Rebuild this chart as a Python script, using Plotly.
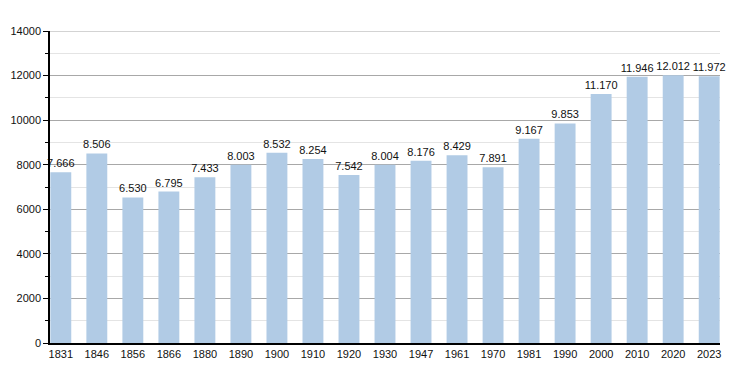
import plotly.graph_objects as go

years = ["1831", "1846", "1856", "1866", "1880", "1890", "1900", "1910", "1920", "1930",
         "1947", "1961", "1970", "1981", "1990", "2000", "2010", "2020", "2023"]
population = [7666, 8506, 6530, 6795, 7433, 8003, 8532, 8254, 7542, 8004,
              8176, 8429, 7891, 9167, 9853, 11170, 11946, 12012, 11972]
labels = ["7.666", "8.506", "6.530", "6.795", "7.433", "8.003", "8.532", "8.254", "7.542", "8.004",
          "8.176", "8.429", "7.891", "9.167", "9.853", "11.170", "11.946", "12.012", "11.972"]
y_ticks = [0, 2000, 4000, 6000, 8000, 10000, 12000, 14000]

xpos = list(range(len(years)))

fig = go.Figure()
fig.add_trace(go.Bar(
    x=xpos, y=population, width=0.58,
    marker=dict(color="#b1cbe5", line=dict(width=0)),
    text=labels, textposition="outside", cliponaxis=False,
    constraintext="none",
    textfont=dict(size=11, color="#111111", family="Liberation Sans, Arial, sans-serif"),
))

# top gridline at the axis maximum
fig.add_shape(type="line", xref="paper", x0=0, x1=1, yref="y",
              y0=y_ticks[-1], y1=y_ticks[-1], line=dict(color="#a8a8a8", width=1),
              layer="below")

fig.update_layout(
    width=750, height=373,
    margin=dict(l=42, r=38, t=23, b=38, autoexpand=False),
    plot_bgcolor="white", paper_bgcolor="white",
    showlegend=False,
    font=dict(family="Liberation Sans, Arial, sans-serif", size=11, color="#111111"),
    xaxis=dict(
        range=[-0.3, 18.3], tickmode="array", tickvals=xpos, ticktext=years,
        showgrid=False, showline=True, linecolor="#000000", linewidth=1.5,
        ticks="", tickfont=dict(size=11), zeroline=False, automargin=False,
    ),
    yaxis=dict(
        range=[0, 14000], tickmode="array", tickvals=y_ticks,
        ticktext=[str(v) for v in y_ticks],
        showgrid=True, gridcolor="#a8a8a8", gridwidth=1,
        showline=True, linecolor="#000000", linewidth=1.5,
        ticks="outside", ticklen=5, tickcolor="#000000",
        zeroline=False, tickfont=dict(size=11), automargin=False,
        minor=dict(dtick=1000, tick0=0, showgrid=True, gridcolor="#e4e4e4",
                   ticks="outside", ticklen=3, tickcolor="#000000"),
    ),
)

fig.write_html("out.html")
